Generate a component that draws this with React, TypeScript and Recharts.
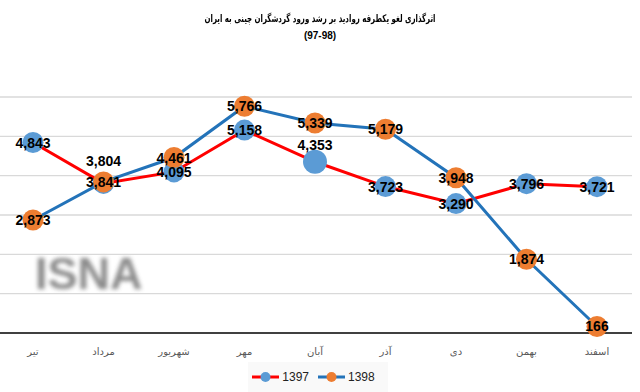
import React from 'react';
import { LineChart, Line, XAxis, YAxis, CartesianGrid, LabelList } from 'recharts';

const months = ['تیر', 'مرداد', 'شهریور', 'مهر', 'آبان', 'آذر', 'دی', 'بهمن', 'اسفند'];
const series1397 = [4843, 3804, 4095, 5158, 4353, 3723, 3290, 3796, 3721];
const series1398 = [2873, 3841, 4461, 5766, 5339, 5179, 3948, 1874, 166];
const yTicks = [0, 1000, 2000, 3000, 4000, 5000, 6000];
const titleLine1 = 'اثرگذاری لغو یکطرفه روادید بر رشد ورود گردشگران چینی به ایران';
const titleLine2 = '(97-98)';
const seriesNames = ['1397', '1398'];

const data = months.map((m, i) => ({ month: m, y1397: series1397[i], y1398: series1398[i] }));

const RED = '#ff0000';
const BLUE_LINE = '#2373b9';
const BLUE_DOT = '#5b9bd5';
const ORANGE = '#ed7d31';

const makeDot = (fill: string, bigIndex: number) => (props: any) => {
  const { cx, cy, index } = props;
  if (cx == null || cy == null) return <g key={`d${index}`} />;
  const r = index === bigIndex ? 12 : 10.5;
  return <circle key={`d${fill}${index}`} cx={cx} cy={cy} r={r} fill={fill} stroke="none" />;
};

const makeLabel = (raise: Record<number, number>) => (props: any) => {
  const { x, y, value, index } = props;
  if (x == null || y == null) return null;
  const dy = raise[index] ?? 0;
  return (
    <text
      x={x}
      y={y + dy + 5}
      textAnchor="middle"
      fill="#000"
      fontSize={14}
      fontWeight="bold"
      fontFamily="'Liberation Sans', Arial, sans-serif"
    >
      {Number(value).toLocaleString('en-US')}
    </text>
  );
};

const LegendItem = ({ line, dot, label }: { line: string; dot: string; label: string }) => (
  <div style={{ display: 'flex', alignItems: 'center', marginRight: 9 }}>
    <svg width={27} height={12}>
      <line x1={0} y1={6} x2={27} y2={6} stroke={line} strokeWidth={3} />
      <circle cx={13.5} cy={6} r={5} fill={dot} />
    </svg>
    <span style={{ marginLeft: 3, fontSize: 12, fontFamily: "'Liberation Sans', Arial, sans-serif", color: '#222' }}>{label}</span>
  </div>
);

export default function App() {
  return (
    <div style={{ position: 'absolute', left: 0, top: 0, width: 640, height: 392, background: '#fff', overflow: 'hidden' }}>
      <div
        dir="rtl"
        style={{
          position: 'absolute', left: 0, top: 10, width: 640, textAlign: 'center',
          fontFamily: "'DejaVu Sans', sans-serif", fontWeight: 'bold', fontSize: 10.5, color: '#000', lineHeight: '17px',
          transform: 'scaleX(0.67)', transformOrigin: '320px 0',
        }}
      >
        {titleLine1}
      </div>
      <div
        style={{
          position: 'absolute', left: 0, top: 27, width: 640, textAlign: 'center',
          fontFamily: "'Liberation Sans', Arial, sans-serif", fontWeight: 'bold', fontSize: 10, color: '#000', lineHeight: '17px',
        }}
      >
        {titleLine2}
      </div>
      <div
        style={{
          position: 'absolute', left: 35, top: 248, fontFamily: "'Liberation Sans', Arial, sans-serif",
          fontWeight: 'bold', fontSize: 45, color: '#666', filter: 'blur(2.2px)', opacity: 0.75, lineHeight: '52px',
        }}
      >
        ISNA
      </div>
      <LineChart
        width={640}
        height={392}
        data={data}
        margin={{ top: 97, right: 8, bottom: 29, left: -2 }}
        style={{ position: 'absolute', left: 0, top: 0 }}
      >
        <CartesianGrid vertical={false} stroke="#d9d9d9" strokeWidth={1.3} />
        <YAxis hide domain={[0, 6000]} ticks={yTicks} />
        <XAxis
          dataKey="month"
          height={30}
          padding={{ left: 35, right: 35 }}
          tickLine={false}
          axisLine={{ stroke: '#404040', strokeWidth: 2 }}
          tickMargin={9}
          interval={0}
          tick={{ fill: '#595959', fontSize: 10, fontFamily: "'DejaVu Sans', sans-serif" }}
        />
        <Line
          dataKey="y1397"
          stroke={RED}
          strokeWidth={3}
          dot={makeDot(BLUE_DOT, 4)}
          activeDot={false}
          isAnimationActive={false}
        />
        <Line
          dataKey="y1398"
          stroke={BLUE_LINE}
          strokeWidth={3}
          dot={makeDot(ORANGE, -1)}
          activeDot={false}
          isAnimationActive={false}
        />
        <Line dataKey="y1397" stroke="none" dot={false} activeDot={false} isAnimationActive={false} legendType="none">
          <LabelList dataKey="y1397" content={makeLabel({ 1: -22, 4: -17 })} />
        </Line>
        <Line dataKey="y1398" stroke="none" dot={false} activeDot={false} isAnimationActive={false} legendType="none">
          <LabelList dataKey="y1398" content={makeLabel({})} />
        </Line>
      </LineChart>
      <div
        style={{
          position: 'absolute', left: 248, top: 362, width: 140, height: 30, background: '#f9f9f9',
          display: 'flex', alignItems: 'center', justifyContent: 'center',
        }}
      >
        <LegendItem line={RED} dot={BLUE_DOT} label={seriesNames[0]} />
        <LegendItem line={BLUE_LINE} dot={ORANGE} label={seriesNames[1]} />
      </div>
    </div>
  );
}
